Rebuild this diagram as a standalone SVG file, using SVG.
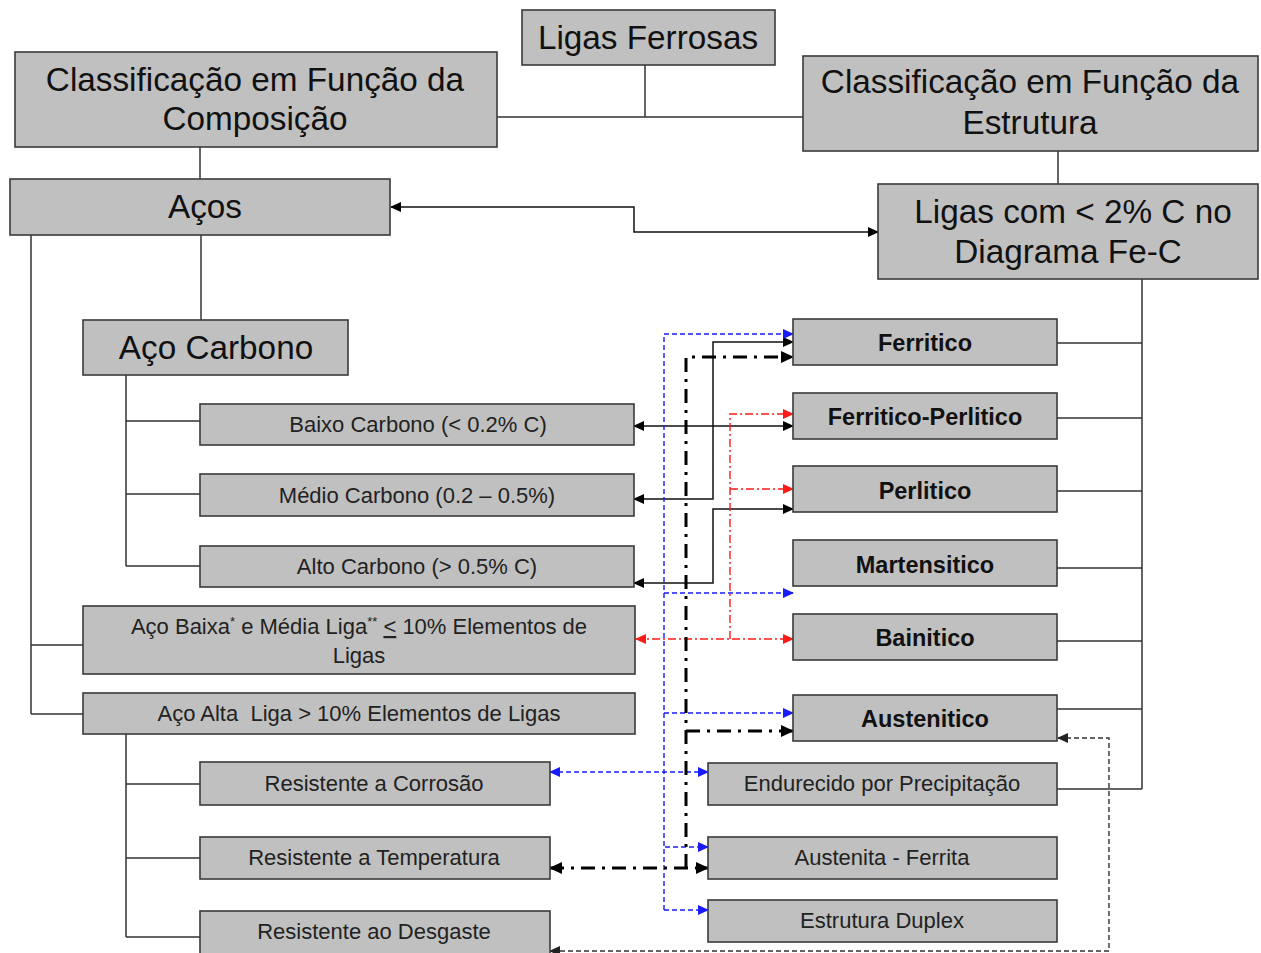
<svg xmlns="http://www.w3.org/2000/svg" width="1261" height="953" viewBox="0 0 1261 953">
<style>
.box{fill:#c0c0c0;stroke:#3a3a3a;stroke-width:1.6}
.big{font-family:"Liberation Sans",Arial,sans-serif;font-size:33.3px;fill:#111;text-anchor:middle}
.bold{font-family:"Liberation Sans",Arial,sans-serif;font-size:23.5px;font-weight:bold;fill:#111;text-anchor:middle}
.small{font-family:"Liberation Sans",Arial,sans-serif;font-size:22px;fill:#222;text-anchor:middle}
.tree{fill:none;stroke:#333;stroke-width:1.5}
.solid{fill:none;stroke:#111;stroke-width:1.5}
.blue{fill:none;stroke:#1a1aff;stroke-width:1.4;stroke-dasharray:5,3}
.red{fill:none;stroke:#ff1a1a;stroke-width:1.4;stroke-dasharray:8,3,2,3}
.thick{fill:none;stroke:#000;stroke-width:3;stroke-dasharray:14,7,3,7}
.gray{fill:none;stroke:#333;stroke-width:1.4;stroke-dasharray:5,3}
</style>
<defs>
<marker id="ab" markerUnits="userSpaceOnUse" markerWidth="11" markerHeight="10" refX="10" refY="5" orient="auto-start-reverse"><path d="M0,0 L11,5 L0,10 z" fill="#000"/></marker>
<marker id="abl" markerUnits="userSpaceOnUse" markerWidth="11" markerHeight="10" refX="10" refY="5" orient="auto-start-reverse"><path d="M0,0 L11,5 L0,10 z" fill="#1a1aff"/></marker>
<marker id="ar" markerUnits="userSpaceOnUse" markerWidth="11" markerHeight="10" refX="10" refY="5" orient="auto-start-reverse"><path d="M0,0 L11,5 L0,10 z" fill="#ff1a1a"/></marker>
<marker id="ag" markerUnits="userSpaceOnUse" markerWidth="11" markerHeight="10" refX="10" refY="5" orient="auto-start-reverse"><path d="M0,0 L11,5 L0,10 z" fill="#222"/></marker>
<marker id="at" markerUnits="userSpaceOnUse" markerWidth="13" markerHeight="12" refX="12" refY="6" orient="auto-start-reverse"><path d="M0,0 L13,6 L0,12 z" fill="#000"/></marker>
</defs>

<g id="connectors">
  <path class="tree" d="M645,65 V117 M497,117 H803"/>
  <path class="tree" d="M200,147 V179"/>
  <path class="tree" d="M1058,151 V184"/>
  <path class="tree" d="M201,235 V320"/>
  <path class="tree" d="M31,235 V714 M31,645 H83 M31,714 H83"/>
  <path class="tree" d="M126,375 V566 M126,421 H200 M126,494 H200 M126,566 H200"/>
  <path class="tree" d="M126,734 V937 M126,784 H200 M126,858 H200 M126,937 H200"/>
  <path class="tree" d="M1142,279 V789 M1057,343 H1142 M1057,418 H1142 M1057,491 H1142 M1057,568 H1142 M1057,641 H1142 M1057,709 H1142 M1057,789 H1142"/>
  <path class="solid" d="M391,207 H634 V232 H878" marker-start="url(#ab)" marker-end="url(#ab)"/>
  <path class="solid" d="M634,499 H713 V342 H793" marker-start="url(#ab)" marker-end="url(#ab)"/>
  <path class="solid" d="M634,426 H793" marker-start="url(#ab)" marker-end="url(#ab)"/>
  <path class="solid" d="M634,583 H713 V509 H793" marker-start="url(#ab)" marker-end="url(#ab)"/>
  <path class="blue" d="M664,910 V334 H793" marker-end="url(#abl)"/>
  <path class="blue" d="M664,593 H793" marker-end="url(#abl)"/>
  <path class="blue" d="M664,713 H793" marker-end="url(#abl)"/>
  <path class="blue" d="M550,772 H708" marker-start="url(#abl)" marker-end="url(#abl)"/>
  <path class="blue" d="M665,847 H708" marker-end="url(#abl)"/>
  <path class="blue" d="M664,910 H708" marker-end="url(#abl)"/>
  <path class="red" d="M730,639 V414 H793" marker-end="url(#ar)"/>
  <path class="red" d="M730,489 H793" marker-end="url(#ar)"/>
  <path class="red" d="M636,639 H793" marker-start="url(#ar)" marker-end="url(#ar)"/>
  <path class="thick" d="M686,868 V357 H793" marker-end="url(#at)"/>
  <path class="thick" d="M686,731 H793" marker-end="url(#at)"/>
  <path class="thick" d="M550,868 H708" marker-start="url(#at)" marker-end="url(#at)"/>
  <path class="gray" d="M1058,738 H1109 V951 H550" marker-start="url(#ag)" marker-end="url(#ag)"/>
</g>

<g id="ligas-ferrosas"><rect class="box" x="522" y="10" width="253" height="55"/><text class="big" x="648" y="49">Ligas Ferrosas</text></g>
<g id="class-composicao"><rect class="box" x="15" y="52" width="482" height="95"/><text class="big" x="255" y="91">Classificação em Função da</text><text class="big" x="255" y="130">Composição</text></g>
<g id="class-estrutura"><rect class="box" x="803" y="56" width="455" height="95"/><text class="big" x="1030" y="93">Classificação em Função da</text><text class="big" x="1030" y="134">Estrutura</text></g>
<g id="acos"><rect class="box" x="10" y="179" width="380" height="56"/><text class="big" x="205" y="218">Aços</text></g>
<g id="ligas-2c"><rect class="box" x="878" y="184" width="380" height="95"/><text class="big" x="1073" y="223">Ligas com &lt; 2% C no</text><text class="big" x="1068" y="263">Diagrama Fe-C</text></g>
<g id="aco-carbono"><rect class="box" x="83" y="320" width="265" height="55"/><text class="big" x="216" y="359">Aço Carbono</text></g>

<g id="baixo-carbono"><rect class="box" x="200" y="404" width="434" height="41"/><text class="small" x="418" y="432">Baixo Carbono (&lt; 0.2% C)</text></g>
<g id="medio-carbono"><rect class="box" x="200" y="474" width="434" height="42"/><text class="small" x="417" y="503">Médio Carbono (0.2 – 0.5%)</text></g>
<g id="alto-carbono"><rect class="box" x="200" y="546" width="434" height="41"/><text class="small" x="417" y="574">Alto Carbono (&gt; 0.5% C)</text></g>
<g id="aco-baixa-media"><rect class="box" x="83" y="606" width="552" height="68"/><text class="small" x="359" y="634">Aço Baixa<tspan font-size="13" dy="-8">*</tspan><tspan dy="8"> e Média Liga</tspan><tspan font-size="13" dy="-8">**</tspan><tspan dy="8"> </tspan><tspan text-decoration="underline">&lt;</tspan> 10% Elementos de</text><text class="small" x="359" y="663">Ligas</text></g>
<g id="aco-alta"><rect class="box" x="83" y="693" width="552" height="41"/><text class="small" x="359" y="721" xml:space="preserve">Aço Alta  Liga &gt; 10% Elementos de Ligas</text></g>
<g id="res-corrosao"><rect class="box" x="200" y="762" width="350" height="43"/><text class="small" x="374" y="791">Resistente a Corrosão</text></g>
<g id="res-temperatura"><rect class="box" x="200" y="837" width="350" height="42"/><text class="small" x="374" y="865">Resistente a Temperatura</text></g>
<g id="res-desgaste"><rect class="box" x="200" y="911" width="350" height="45"/><text class="small" x="374" y="939">Resistente ao Desgaste</text></g>

<g id="ferritico"><rect class="box" x="793" y="319" width="264" height="46"/><text class="bold" x="925" y="351">Ferritico</text></g>
<g id="ferritico-perlitico"><rect class="box" x="793" y="393" width="264" height="46"/><text class="bold" x="925" y="425">Ferritico-Perlitico</text></g>
<g id="perlitico"><rect class="box" x="793" y="466" width="264" height="46"/><text class="bold" x="925" y="499">Perlitico</text></g>
<g id="martensitico"><rect class="box" x="793" y="540" width="264" height="46"/><text class="bold" x="925" y="573">Martensitico</text></g>
<g id="bainitico"><rect class="box" x="793" y="614" width="264" height="46"/><text class="bold" x="925" y="646">Bainitico</text></g>
<g id="austenitico"><rect class="box" x="793" y="695" width="264" height="46"/><text class="bold" x="925" y="727">Austenitico</text></g>
<g id="endurecido"><rect class="box" x="708" y="763" width="349" height="42"/><text class="small" x="882" y="791">Endurecido por Precipitação</text></g>
<g id="austenita-ferrita"><rect class="box" x="708" y="837" width="349" height="42"/><text class="small" x="882" y="865">Austenita - Ferrita</text></g>
<g id="estrutura-duplex"><rect class="box" x="708" y="900" width="349" height="42"/><text class="small" x="882" y="928">Estrutura Duplex</text></g>
</svg>
